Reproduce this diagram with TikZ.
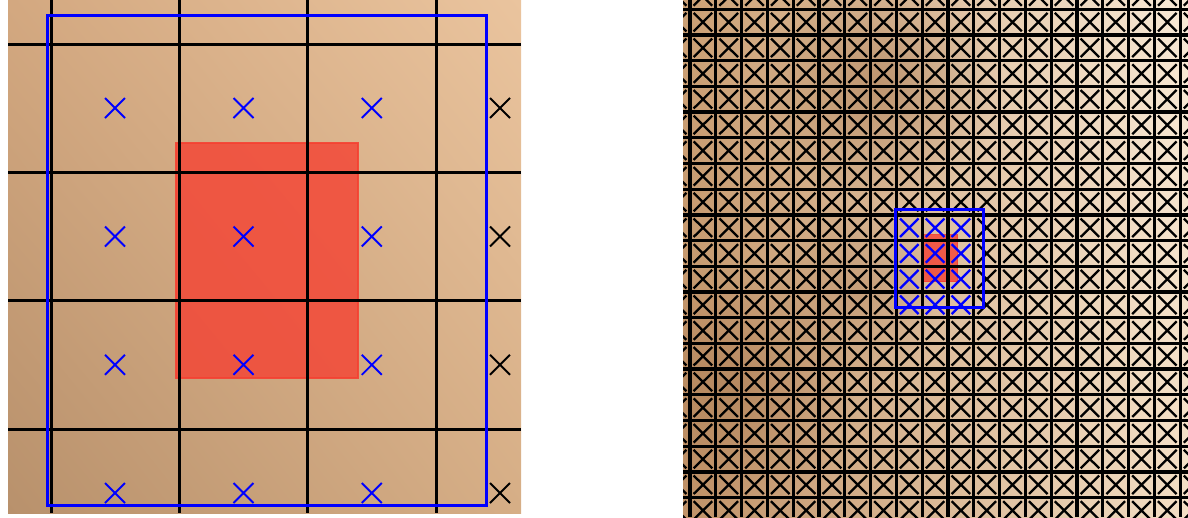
\documentclass[tikz,border=0pt]{standalone}
\usetikzlibrary{fadings,shadings}
\definecolor{skinA}{RGB}{211,168,128}
\definecolor{skinB}{RGB}{234,196,158}
\definecolor{skinC}{RGB}{184,145,108}
\definecolor{skinD}{RGB}{214,174,134}
\definecolor{farA}{RGB}{203,160,117}
\definecolor{farB}{RGB}{248,233,214}
\definecolor{farC}{RGB}{192,146,104}
\definecolor{farD}{RGB}{243,222,196}
\definecolor{shadow}{RGB}{160,112,72}
\definecolor{patchred}{RGB}{245,65,50}
\tikzfading[name=blob, inner color=transparent!0, outer color=transparent!100]

\begin{document}
\begin{tikzpicture}[x=1pt, y=-1pt,
  grd/.style={line width=3pt, black},
  fgrd/.style={line width=3.3pt, black},
  win/.style={draw=blue, line width=3pt},
  patch/.style={fill=patchred, fill opacity=0.8, draw=patchred, draw opacity=0.9, line width=1.2pt},
  xm/.style={line width=1.9pt},
  fxm/.style={line width=2.3pt},
]
\useasboundingbox (0,0) rectangle (1188,517);

% close-up of the window
\begin{scope}
  \clip (8,0) rectangle (521,513);
  \shade[upper left=skinA, upper right=skinB, lower left=skinC, lower right=skinD] (8,0) rectangle (521,513);
  \filldraw[patch] (176,143) rectangle (358,378);
  \foreach \g in {51,179.3,307.7,436} {
    \draw[grd] (\g,0) -- (\g,513);
  }
  \foreach \g in {44,172.3,300.7,429} {
    \draw[grd] (8,\g) -- (521,\g);
  }
  \foreach \cx/\cc in {115/blue,243.5/blue,371.8/blue,500/black}
    \foreach \cy in {108,236.5,364.8,493}
      \draw[xm,\cc] (\cx-10,\cy-10) -- (\cx+10,\cy+10) (\cx-10,\cy+10) -- (\cx+10,\cy-10);
  \draw[win] (47,15) rectangle (486,505);
\end{scope}

% whole image
\begin{scope}
  \clip (683,0) rectangle (1188,517);
  \shade[upper left=farA, upper right=farB, lower left=farC, lower right=farD] (683,0) rectangle (1188,517);
  \fill[shadow, path fading=blob, fill opacity=0.5] (880,85) circle (120);
  \fill[shadow, path fading=blob, fill opacity=0.45] (735,385) circle (120);
  \fill[shadow, path fading=blob, fill opacity=0.3] (860,290) circle (90);
  \filldraw[patch] (921.4,234.7) rectangle (957.8,281.7);
  \foreach \k in {-1,...,20} {
    \draw[fgrd] (690+25.8*\k,0) -- (690+25.8*\k,517);
    \draw[fgrd] (683,9.3+25.7*\k) -- (1188,9.3+25.7*\k);
  }
  \foreach \k in {-1,...,19}
    \foreach \j in {-1,...,19} {
      \pgfmathtruncatemacro\inwin{(\k>7)*(\k<11)*(\j>7)*(\j<12)}
      \ifnum\inwin=1 \def\cc{blue}\else\def\cc{black}\fi
      \draw[fxm,\cc] (690+25.8*\k+3.6,9.3+25.7*\j+3.6) -- (690+25.8*\k+22.2,9.3+25.7*\j+22.1)
        (690+25.8*\k+3.6,9.3+25.7*\j+22.1) -- (690+25.8*\k+22.2,9.3+25.7*\j+3.6);
    }
  \draw[win] (895.6,209.1) rectangle (983.4,307.1);
\end{scope}
\end{tikzpicture}
\end{document}
